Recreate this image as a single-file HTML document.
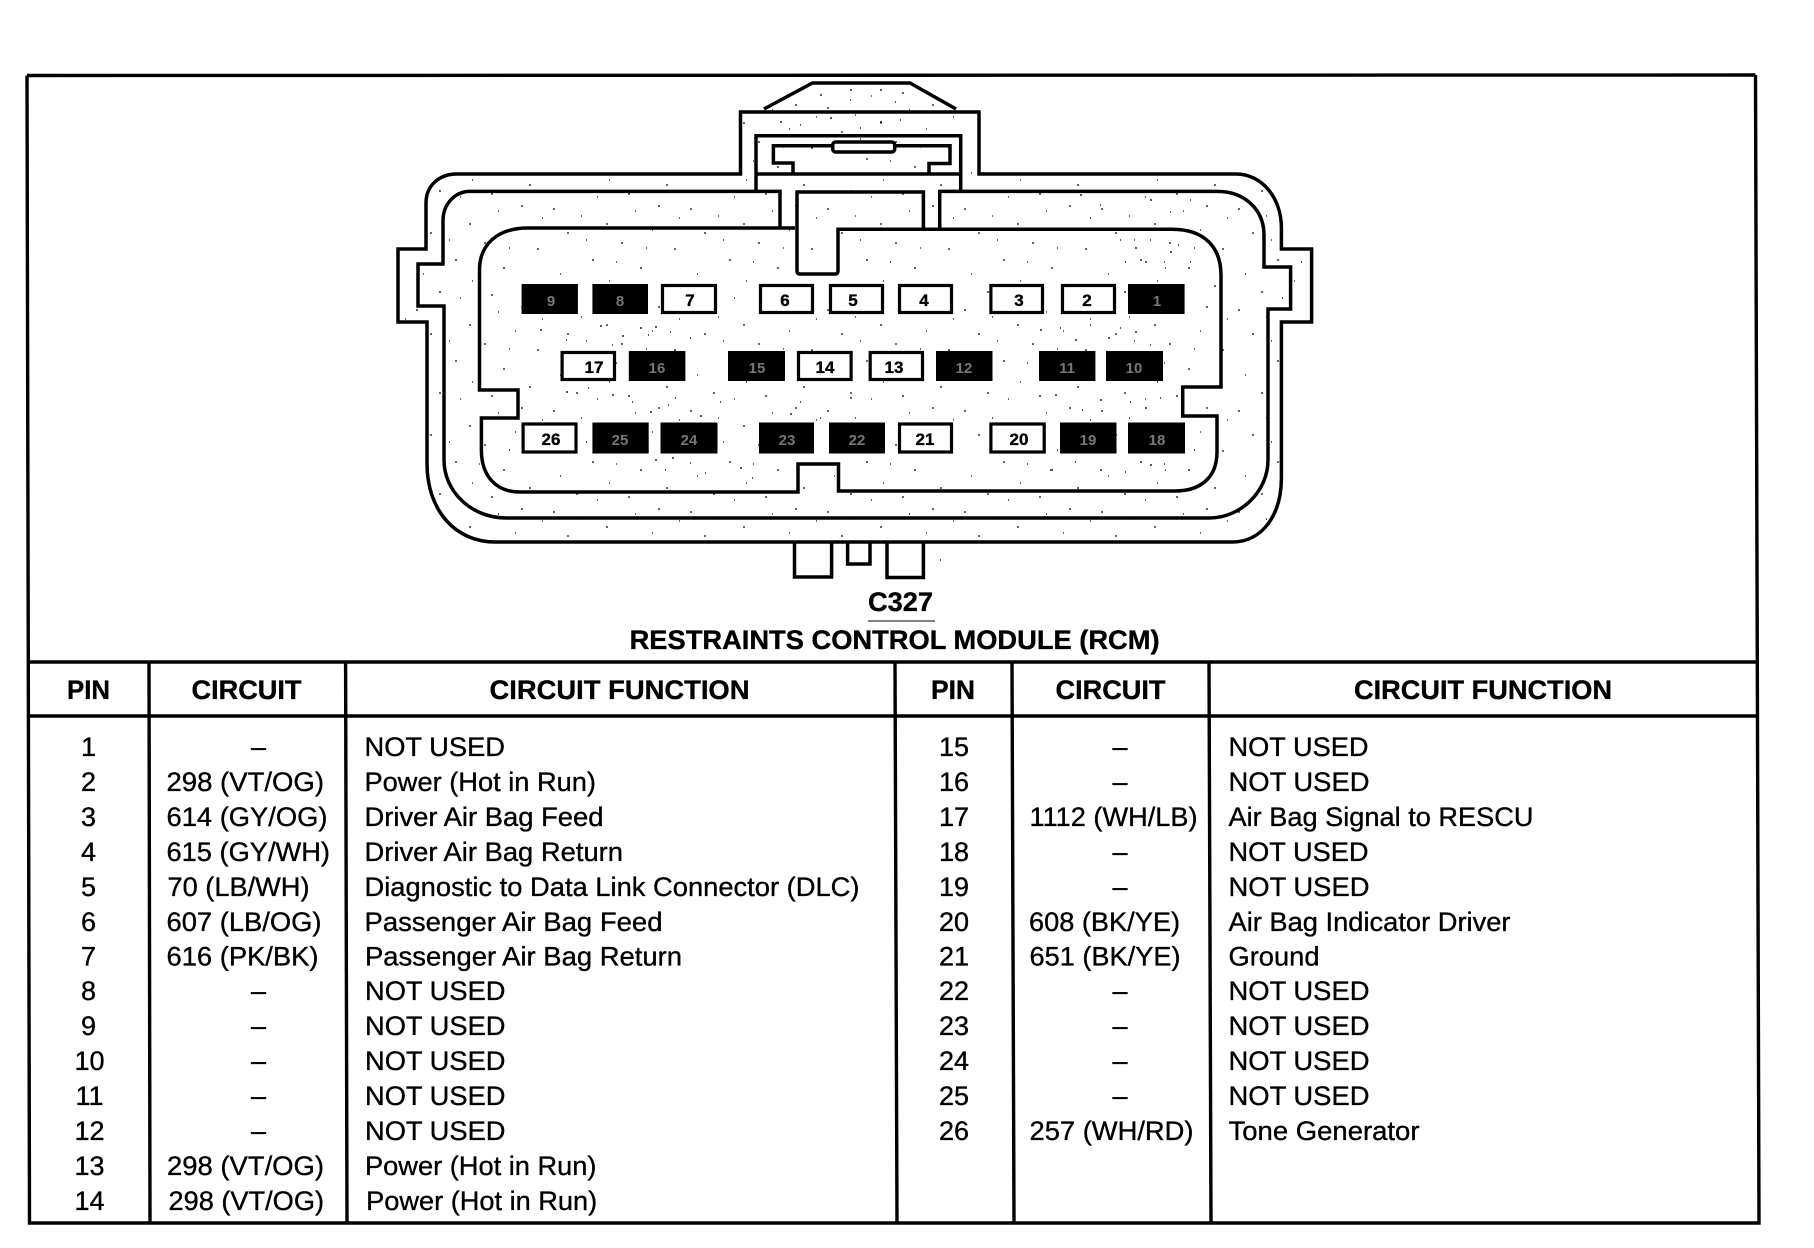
<!DOCTYPE html>
<html><head><meta charset="utf-8"><title>C327 Restraints Control Module</title>
<style>html,body{margin:0;padding:0;background:#fff}svg{display:block}
text{font-family:"Liberation Sans",sans-serif;fill:#000;stroke:#000;stroke-width:.35}
.p{font-weight:bold;font-size:17px;text-anchor:middle}
.d{font-size:15px;text-anchor:middle;fill:#777;stroke:none;font-weight:bold}
.l{fill:none;stroke:#000;stroke-width:3.5;stroke-linejoin:miter}
</style></head><body>
<svg xmlns="http://www.w3.org/2000/svg" width="1814" height="1248" viewBox="0 0 1814 1248">
<defs>
<pattern id="sp" width="137" height="101" patternUnits="userSpaceOnUse">
<path stroke="#333" stroke-width="1.5" fill="none" d="M5 7h2M19 31h2M33 14h1M44 58h2M58 22h2M61 79h1M73 41h2M87 9h1M92 66h2M104 28h1M118 84h2M126 47h2M12 72h1M28 90h2M49 96h1M80 93h2M110 4h2M131 16h1M38 38h1M68 60h1M98 46h1"/>
</pattern>
</defs>
<rect width="1814" height="1248" fill="#fff"/>

<!-- connector body with speckle -->
<path fill="url(#sp)" d="M764 109L812.5 83H910L956 109H979V174H1236C1262 174 1281.4 198 1281.4 228V249H1311.6V322H1281.4V478C1281.4 515 1262 542 1232.5 542H495C455 542 427 510 427 463.5V322H398V249H426V203C426 185 440 174 456.5 174H740.5V112H764Z"/>
<path stroke="#222" stroke-width="1.6" fill="none" d="M540 330h2M566 340h1M600 326h2M612 345h1M622 336h2M640 328h2M648 335h1M655 327h2M670 332h1M690 338h1M566 392h2M588 388h1M612 395h2M632 402h1M650 412h2M668 405h1M675 398h1M700 416h2M720 402h1M655 460h2M665 470h1M672 458h2M690 463h1M705 473h1M740 468h2M752 478h1M790 414h2M800 402h1M820 418h1M850 398h2M1040 330h2M1060 328h1M1075 340h2M1090 325h1M1108 338h2M1120 328h1M1135 332h2M1150 345h1M1055 395h2M1082 410h1M1100 400h2M1130 402h1M1145 408h2M1160 398h1M1050 470h2M1075 462h1M1100 470h2M1125 472h1M1150 465h2M1165 470h1M1120 240h1M1135 248h2M1150 240h1M1170 252h2M1125 262h1M1145 262h2M1165 268h1M1178 245h1M1190 262h1M880 122h2M860 128h1M830 118h2M800 125h1M900 120h1M780 122h2M820 95h2M850 100h1M880 90h2M895 102h1M1080 195h2M1100 205h1M1150 200h2M1170 212h1M1190 200h1M940 560h1"/>

<!-- top hat and block -->
<polyline class="l" points="764,109 812.5,83 910,83 956,109"/>
<!-- outer outline -->
<path class="l" d="M740.5 174V112H979V174H1236C1262 174 1281.4 198 1281.4 228V249H1311.6V322H1281.4V478C1281.4 515 1262 542 1232.5 542H495C455 542 427 510 427 463.5V322H398V249H426V203C426 185 440 174 456.5 174Z"/>
<!-- second outline -->
<path class="l" d="M780 228V191.4H470C455 191.4 443 204 443 220.7V264H418V306H444V460C444 492 472 518 506 518H1209.5C1240 518 1268 492 1268 460V309H1290.6V267H1264V235C1264 210 1245 191.4 1217 191.4H939.7V228"/>
<!-- third outline -->
<path class="l" d="M923.4 228V192H797V271Q797 274 800 274H835Q838 274 838 271V229.3H1172C1205 229.3 1221 248 1221 275V387H1182.7V416H1217V452C1217 478 1200 491 1175 491H838.5V464H798V492H520C495 492 481.4 475 481.4 450V418H518V390H479.5V270C479.5 245 497 228 528 228H795"/>
<!-- inner block -->
<path class="l" d="M756 190V135.7H960.7V190M756 174H959"/>
<polyline class="l" points="793,172.5 793,163 773.4,163 773.4,145.7 950,145.7 950,163.5 929,163.5 929,172.5"/>
<rect class="l" x="832.7" y="142" width="62" height="10" rx="3" style="fill:#fff"/>
<!-- bottom tabs -->
<path class="l" d="M794.5 542V577H831.6V542M847.6 542V564H870V542M887 542V577.5H923.4V542"/>

<!-- pins -->
<g fill="#000">
<rect x="521.6" y="284" width="56.3" height="30"/>
<rect x="592.4" y="284" width="55.6" height="30"/>
<rect x="1128" y="284" width="56.6" height="30"/>
<rect x="628.8" y="351" width="56.6" height="30"/>
<rect x="728" y="351" width="57" height="30"/>
<rect x="936" y="351" width="56.5" height="30"/>
<rect x="1039" y="351" width="56.4" height="30"/>
<rect x="1106" y="351" width="57" height="30"/>
<rect x="592.4" y="422.5" width="56.3" height="31"/>
<rect x="660.5" y="422.5" width="57" height="31"/>
<rect x="759" y="422.5" width="55" height="31"/>
<rect x="829" y="422.5" width="56" height="31"/>
<rect x="1060" y="422.5" width="56.5" height="31"/>
<rect x="1128" y="422.5" width="57" height="31"/>
</g>
<g fill="#fff" stroke="#000" stroke-width="3.2">
<rect x="662.5" y="285.5" width="53" height="27"/>
<rect x="760.5" y="285.5" width="52" height="27"/>
<rect x="830.5" y="285.5" width="52" height="27"/>
<rect x="899.5" y="285.5" width="52" height="27"/>
<rect x="990.9" y="285.5" width="51.6" height="27"/>
<rect x="1062.5" y="285.5" width="52" height="27"/>
<rect x="562.1" y="352.5" width="52.4" height="27"/>
<rect x="798.5" y="352.5" width="52.6" height="27"/>
<rect x="870.2" y="352.5" width="52.3" height="27"/>
<rect x="523.1" y="424" width="52.9" height="28"/>
<rect x="899.5" y="424" width="52" height="28"/>
<rect x="990.9" y="424" width="53.3" height="28"/>
</g>
<g>
<text class="p" x="690" y="306">7</text><text class="p" x="785" y="306">6</text><text class="p" x="853" y="306">5</text><text class="p" x="924" y="306">4</text><text class="p" x="1019" y="306">3</text><text class="p" x="1087" y="306">2</text>
<text class="p" x="594" y="373">17</text><text class="p" x="825" y="373">14</text><text class="p" x="894" y="373">13</text>
<text class="p" x="551" y="445">26</text><text class="p" x="925" y="445">21</text><text class="p" x="1019" y="445">20</text>
<text class="d" x="551" y="306">9</text><text class="d" x="620" y="306">8</text><text class="d" x="1157" y="306">1</text>
<text class="d" x="657" y="373">16</text><text class="d" x="757" y="373">15</text><text class="d" x="964" y="373">12</text><text class="d" x="1067" y="373">11</text><text class="d" x="1134" y="373">10</text>
<text class="d" x="620" y="445">25</text><text class="d" x="689" y="445">24</text><text class="d" x="787" y="445">23</text><text class="d" x="857" y="445">22</text><text class="d" x="1088" y="445">19</text><text class="d" x="1157" y="445">18</text>
</g>

<!-- titles -->
<g font-size="27" style="font-weight:bold">
<text x="868" y="611" textLength="65" lengthAdjust="spacingAndGlyphs">C327</text>
<text x="629.6" y="649" textLength="530" lengthAdjust="spacingAndGlyphs">RESTRAINTS CONTROL MODULE (RCM)</text>
</g>
<line x1="868" y1="621" x2="935" y2="621" stroke="#000" stroke-width="1"/>

<!-- frame + table lines -->
<g fill="none" stroke="#000" stroke-width="3.4">
<polyline points="27,75.5 1755.5,75"/>
<polyline points="27,75.5 29.5,1223 1759,1223 1755.5,75"/>
<line x1="28" y1="662" x2="1757" y2="662"/>
<line x1="28.5" y1="716" x2="1757" y2="716"/>
<line x1="149" y1="662" x2="150" y2="1223"/>
<line x1="345.6" y1="662" x2="347" y2="1223"/>
<line x1="895" y1="662" x2="897" y2="1223"/>
<line x1="1012" y1="662" x2="1014" y2="1223"/>
<line x1="1209" y1="662" x2="1211" y2="1223"/>
</g>

<!-- headers -->
<g font-size="27" style="font-weight:bold" transform="translate(-0.5,-1)">
<text x="67.5" y="700" textLength="43" lengthAdjust="spacingAndGlyphs">PIN</text>
<text x="192" y="700" textLength="110" lengthAdjust="spacingAndGlyphs">CIRCUIT</text>
<text x="490" y="700" textLength="260" lengthAdjust="spacingAndGlyphs">CIRCUIT FUNCTION</text>
<text x="931.5" y="700" textLength="44" lengthAdjust="spacingAndGlyphs">PIN</text>
<text x="1056" y="700" textLength="110" lengthAdjust="spacingAndGlyphs">CIRCUIT</text>
<text x="1354.5" y="700" textLength="258" lengthAdjust="spacingAndGlyphs">CIRCUIT FUNCTION</text>
</g>

<!-- rows -->
<g font-size="27" transform="translate(-0.5,-1)">
<g text-anchor="middle">
<text x="89" y="757">1</text><text x="89" y="792">2</text><text x="89" y="827">3</text><text x="89" y="862">4</text><text x="89" y="897">5</text><text x="89" y="932">6</text><text x="89" y="966.5">7</text><text x="89" y="1001">8</text><text x="89" y="1036">9</text><text x="90" y="1071">10</text><text x="90" y="1106">11</text><text x="90" y="1141">12</text><text x="90" y="1176">13</text><text x="90" y="1211">14</text>
<text x="259" y="757">–</text><text x="259" y="1001">–</text><text x="259" y="1036">–</text><text x="259" y="1071">–</text><text x="259" y="1106">–</text><text x="259" y="1141">–</text>
<text x="954.5" y="757">15</text><text x="954.5" y="792">16</text><text x="954.5" y="827">17</text><text x="954.5" y="862">18</text><text x="954.5" y="897">19</text><text x="954.5" y="932">20</text><text x="954.5" y="966.5">21</text><text x="954.5" y="1001">22</text><text x="954.5" y="1036">23</text><text x="954.5" y="1071">24</text><text x="954.5" y="1106">25</text><text x="954.5" y="1141">26</text>
<text x="1120.5" y="757">–</text><text x="1120.5" y="792">–</text><text x="1120.5" y="862">–</text><text x="1120.5" y="897">–</text><text x="1120.5" y="1001">–</text><text x="1120.5" y="1036">–</text><text x="1120.5" y="1071">–</text><text x="1120.5" y="1106">–</text>
</g>
<text x="167" y="792" textLength="157.5" lengthAdjust="spacingAndGlyphs">298 (VT/OG)</text>
<text x="167" y="827" textLength="161" lengthAdjust="spacingAndGlyphs">614 (GY/OG)</text>
<text x="167" y="862" textLength="163.5" lengthAdjust="spacingAndGlyphs">615 (GY/WH)</text>
<text x="168" y="897" textLength="142" lengthAdjust="spacingAndGlyphs">70 (LB/WH)</text>
<text x="167" y="932" textLength="155" lengthAdjust="spacingAndGlyphs">607 (LB/OG)</text>
<text x="167" y="966.5" textLength="152" lengthAdjust="spacingAndGlyphs">616 (PK/BK)</text>
<text x="167.5" y="1176" textLength="157" lengthAdjust="spacingAndGlyphs">298 (VT/OG)</text>
<text x="169" y="1211" textLength="155.5" lengthAdjust="spacingAndGlyphs">298 (VT/OG)</text>

<text x="365" y="757" textLength="140.5" lengthAdjust="spacingAndGlyphs">NOT USED</text>
<text x="365" y="792" textLength="231.5" lengthAdjust="spacingAndGlyphs">Power (Hot in Run)</text>
<text x="365" y="827" textLength="239" lengthAdjust="spacingAndGlyphs">Driver Air Bag Feed</text>
<text x="365" y="862" textLength="258.5" lengthAdjust="spacingAndGlyphs">Driver Air Bag Return</text>
<text x="365" y="897" textLength="495" lengthAdjust="spacingAndGlyphs">Diagnostic to Data Link Connector (DLC)</text>
<text x="365" y="932" textLength="298" lengthAdjust="spacingAndGlyphs">Passenger Air Bag Feed</text>
<text x="365.5" y="966.5" textLength="317" lengthAdjust="spacingAndGlyphs">Passenger Air Bag Return</text>
<text x="365.5" y="1001" textLength="140.5" lengthAdjust="spacingAndGlyphs">NOT USED</text>
<text x="365.5" y="1036" textLength="140.5" lengthAdjust="spacingAndGlyphs">NOT USED</text>
<text x="365.5" y="1071" textLength="140.5" lengthAdjust="spacingAndGlyphs">NOT USED</text>
<text x="365.5" y="1106" textLength="140.5" lengthAdjust="spacingAndGlyphs">NOT USED</text>
<text x="365.5" y="1141" textLength="140.5" lengthAdjust="spacingAndGlyphs">NOT USED</text>
<text x="365.5" y="1176" textLength="231.5" lengthAdjust="spacingAndGlyphs">Power (Hot in Run)</text>
<text x="366.7" y="1211" textLength="231" lengthAdjust="spacingAndGlyphs">Power (Hot in Run)</text>

<text x="1030" y="827" textLength="168" lengthAdjust="spacingAndGlyphs">1112 (WH/LB)</text>
<text x="1029.5" y="932" textLength="151" lengthAdjust="spacingAndGlyphs">608 (BK/YE)</text>
<text x="1030" y="966.5" textLength="151" lengthAdjust="spacingAndGlyphs">651 (BK/YE)</text>
<text x="1030" y="1141" textLength="164" lengthAdjust="spacingAndGlyphs">257 (WH/RD)</text>

<text x="1229" y="757" textLength="140" lengthAdjust="spacingAndGlyphs">NOT USED</text>
<text x="1229" y="792" textLength="141" lengthAdjust="spacingAndGlyphs">NOT USED</text>
<text x="1229" y="827" textLength="305" lengthAdjust="spacingAndGlyphs">Air Bag Signal to RESCU</text>
<text x="1229" y="862" textLength="140" lengthAdjust="spacingAndGlyphs">NOT USED</text>
<text x="1229" y="897" textLength="141" lengthAdjust="spacingAndGlyphs">NOT USED</text>
<text x="1229" y="932" textLength="282" lengthAdjust="spacingAndGlyphs">Air Bag Indicator Driver</text>
<text x="1229" y="966.5" textLength="91" lengthAdjust="spacingAndGlyphs">Ground</text>
<text x="1229" y="1001" textLength="141" lengthAdjust="spacingAndGlyphs">NOT USED</text>
<text x="1229" y="1036" textLength="141" lengthAdjust="spacingAndGlyphs">NOT USED</text>
<text x="1229" y="1071" textLength="141" lengthAdjust="spacingAndGlyphs">NOT USED</text>
<text x="1229" y="1106" textLength="141" lengthAdjust="spacingAndGlyphs">NOT USED</text>
<text x="1229" y="1141" textLength="191" lengthAdjust="spacingAndGlyphs">Tone Generator</text>
</g>
</svg>
</body></html>
